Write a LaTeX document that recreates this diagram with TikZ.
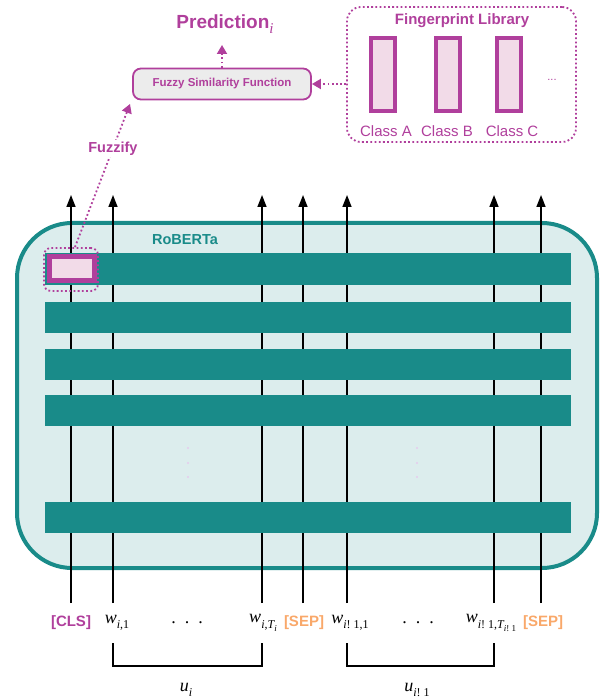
\documentclass[tikz,border=0pt]{standalone}
\usepackage{fontspec}
\setmainfont{Liberation Sans}
\newfontfamily\tms{Liberation Serif}
\usetikzlibrary{arrows.meta}
\definecolor{tealA}{HTML}{198B89}
\definecolor{tealbg}{HTML}{DCEDED}
\definecolor{mag}{HTML}{B03F9C}
\definecolor{pinkfill}{HTML}{F2DBE8}
\definecolor{grayfill}{HTML}{ECECEC}
\definecolor{sepor}{HTML}{F9A86A}
\definecolor{dotpink}{HTML}{E6CCEE}
\newcommand{\mi}[1]{{\tms\itshape #1}}
\newcommand{\mr}[1]{{\tms #1}}
\newcommand{\lsub}[1]{\raisebox{-0.3em}{\fontsize{12}{13}\selectfont #1}}
\newcommand{\llsub}[1]{\raisebox{-0.25em}{\fontsize{9}{10}\selectfont #1}}
\begin{document}
\begin{tikzpicture}[x=1pt,y=-1pt,
  tok/.style={black,line width=1.6pt,-{Triangle[length=12pt,width=9pt]}},
  bar/.style={fill=tealA,draw=none},
  magdot/.style={draw=mag,line width=1.8pt,dash pattern=on 1.8pt off 2.4pt},
  magarrow/.style={magdot,-{Triangle[length=9pt,width=10pt]}},
  lbl/.style={font=\fontsize{18}{21}\selectfont},
  tokb/.style={font=\bfseries\fontsize{15}{18}\selectfont},
  classrect/.style={draw=mag,line width=4pt,fill=pinkfill,minimum width=24pt,minimum height=73pt,inner sep=0pt},
  classlbl/.style={text=mag,font=\fontsize{15}{18}\selectfont},
  brk/.style={black,line width=1.6pt},
  vdot/.style={fill=dotpink,draw=none}
]
\useasboundingbox (0,0) rectangle (607,700);

% RoBERTa box
\node[draw=tealA,fill=tealbg,line width=4pt,rounded corners=55pt,minimum width=580pt,minimum height=345pt,inner sep=0pt] (roberta) at (307,395.5) {};
\node[text=tealA,font=\bfseries\fontsize{14.5}{17}\selectfont] (robtitle) at (185,240) {RoBERTa};

% token lines
\foreach \n/\x in {1/71,2/113,3/262,4/303,5/347,6/494,7/541}{
  \coordinate (b\n) at (\x,603);
  \coordinate (t\n) at (\x,195);
  \draw[tok] (b\n) -- (t\n);
}

% layers
\foreach \ya/\yb in {253/285,302/333,349/380,395/426,502/533}{
  \fill[bar] (45,\ya) rectangle (571,\yb);
}

% vertical dots
\foreach \x in {188,417}{
  \foreach \y in {448,463,477}{
    \fill[vdot] (\x,\y) circle (1.1pt);
  }
}

% CLS highlight
\node[draw=mag,line width=5pt,fill=pinkfill,minimum width=45pt,minimum height=24pt,inner sep=0pt] (clsin) at (72,268.5) {};
\node[magdot,rounded corners=7pt,minimum width=54pt,minimum height=43pt,inner sep=0pt] (clsbox) at (71,269.5) {};

% top part
\node[draw=mag,line width=1.8pt,fill=grayfill,rounded corners=8pt,minimum width=178pt,minimum height=31pt,inner sep=0pt,text=mag,font=\bfseries\fontsize{11.5}{13}\selectfont] (fuzzy) at (222,84) {Fuzzy Similarity Function};
\node[text=mag,font=\bfseries\fontsize{19}{22}\selectfont] (pred) at (225,24) {Prediction\raisebox{-0.3em}{\fontsize{15}{16}\mdseries\mi{i}}};
\coordinate (predtip) at (222,45);
\draw[magarrow] (fuzzy.north) -- (predtip);

\node[magdot,rounded corners=14pt,minimum width=229pt,minimum height=135pt,inner sep=0pt] (lib) at (461.5,74.5) {};
\node[text=mag,font=\bfseries\fontsize{15}{18}\selectfont] (libtitle) at (462,21) {Fingerprint Library};
\node[classrect] (ca) at (383,74.5) {};
\node[classrect] (cb) at (447.5,74.5) {};
\node[classrect] (cc) at (508.5,74.5) {};
\node[classlbl] (la) at (386,131) {Class A};
\node[classlbl] (lb) at (447,131) {Class B};
\node[classlbl] (lc) at (512,131) {Class C};
\node[text=mag,font=\fontsize{11}{13}\selectfont] (more) at (552,80) {...};
\draw[magarrow] (lib.west |- fuzzy.east) -- (fuzzy.east);

% fuzzify
\coordinate (fztip) at (130,104);
\draw[magarrow] ([xshift=4pt]clsbox.north) -- (fztip)
  node[pos=0.69,fill=white,inner sep=1.5pt,text=mag,font=\bfseries\fontsize{14.5}{17}\selectfont] (fzl) {Fuzzify};

% bottom labels
\node[tokb,text=mag] (cls) at (71,623) {[CLS]};
\node[lbl] (w11) at (117,623) {\mi{w}\lsub{\mi{i}\mr{,1}}};
\node[lbl] (d1) at (187,623) {\mr{.\hspace{9pt}.\hspace{9pt}.}};
\node[lbl] (w1T) at (263,623) {\mi{w}\lsub{\mi{i}\mr{,}\mi{T}\llsub{\mi{i}}}};
\node[tokb,text=sepor] (sep1) at (304,623) {[SEP]};
\node[lbl] (w21) at (350,623) {\mi{w}\lsub{\mi{i}\mr{!\ 1,1}}};
\node[lbl] (d2) at (418,623) {\mr{.\hspace{9pt}.\hspace{9pt}.}};
\node[lbl] (w2T) at (491,623) {\mi{w}\lsub{\mi{i}\mr{!\ 1,}\mi{T}\llsub{\mi{i}\mr{!\ 1}}}};
\node[tokb,text=sepor] (sep2) at (543,623) {[SEP]};

% brackets
\coordinate (k1a) at (113,643); \coordinate (k1b) at (113,666);
\coordinate (k1c) at (262,666); \coordinate (k1d) at (262,643);
\coordinate (k2a) at (347,643); \coordinate (k2b) at (347,666);
\coordinate (k2c) at (494,666); \coordinate (k2d) at (494,643);
\draw[brk] (k1a) -- (k1b) -- (k1c) -- (k1d);
\draw[brk] (k2a) -- (k2b) -- (k2c) -- (k2d);
\node[lbl] (u1) at (186,690) {\mi{u}\lsub{\mi{i}}};
\node[lbl] (u2) at (417,690) {\mi{u}\lsub{\mi{i}\mr{!\ 1}}};
\end{tikzpicture}
\end{document}
